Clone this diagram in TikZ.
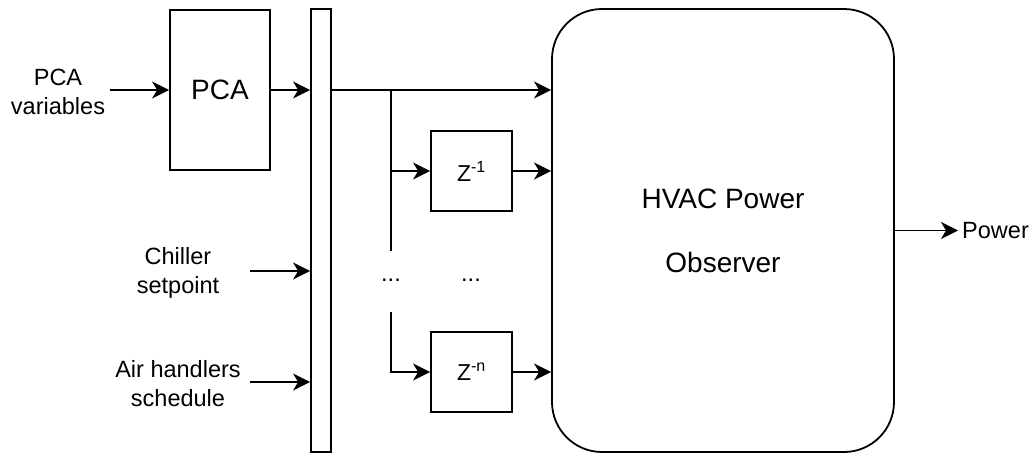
\documentclass[tikz,border=0pt]{standalone}
\usepackage{fontspec}
\setmainfont{Liberation Sans}
\usetikzlibrary{arrows.meta}

\begin{document}
\begin{tikzpicture}[x=1pt,y=-1pt,line width=1.8pt,
    blk/.style={draw,line width=1.8pt,inner sep=0pt},
    lbl/.style={align=center,font=\fontsize{23.5}{29}\selectfont},
    arr/.style={-{Stealth[length=17pt,width=17pt,inset=5pt]}}]
    \useasboundingbox (0,0) rectangle (1033,453);
    % blocks
    \node[blk,minimum width=100pt,minimum height=160pt,
      font=\fontsize{28}{34}\selectfont] (pca) at (220,90) {PCA};
    \node[blk,minimum width=20pt,minimum height=443pt] (bus) at (321,230.5) {};
    \node[blk,rounded corners=50pt,minimum width=342pt,minimum height=443pt,
      align=center,font=\fontsize{28}{64}\selectfont] (obs) at (723,230.5)
      {HVAC Power\\Observer};
    \node[blk,minimum width=81pt,minimum height=80pt,
      font=\fontsize{23}{28}\selectfont] (z1) at (471.5,171) {Z\textsuperscript{-1}};
    \node[blk,minimum width=81pt,minimum height=80pt,
      font=\fontsize{23}{28}\selectfont] (zn) at (471.5,372) {Z\textsuperscript{-n}};
    % labels
    \node[lbl] (pcavar) at (58,92) {PCA\\variables};
    \node[lbl] (chill) at (178,273) {Chiller\\setpoint};
    \node[lbl] (air) at (178,384) {Air handlers\\schedule};
    \node[lbl,anchor=west] (pow) at (958,230.5) {Power};
    \node[lbl] (dotsa) at (391,280) {...};
    \node[lbl] (dotsb) at (471,280) {...};
    \coordinate (pcain) at (110,90);
    \coordinate (chillin) at (250,271);
    \coordinate (airin) at (250,382);
    \coordinate (split) at (391,90);
    \coordinate (splitend) at (391,251);
    \coordinate (lowtop) at (391,312);
    % inputs
    \draw[arr] (pcain) -- (pca.west);
    \draw[arr] (pca.east) -- (pca.east -| bus.west);
    \draw[arr] (chillin) -- (chillin -| bus.west);
    \draw[arr] (airin) -- (airin -| bus.west);
    % delay lines
    \draw[arr] (bus.east |- pca.east) -- (pca.east -| obs.west);
    \draw (split) -- (splitend);
    \draw[arr] (split |- z1.west) -- (z1.west);
    \draw[arr] (lowtop) |- (zn.west);
    \draw[arr] (z1.east) -- (z1.east -| obs.west);
    \draw[arr] (zn.east) -- (zn.east -| obs.west);
    % output
    \draw[arr] (obs.east) -- (obs.east -| pow.west);
\end{tikzpicture}
\end{document}
